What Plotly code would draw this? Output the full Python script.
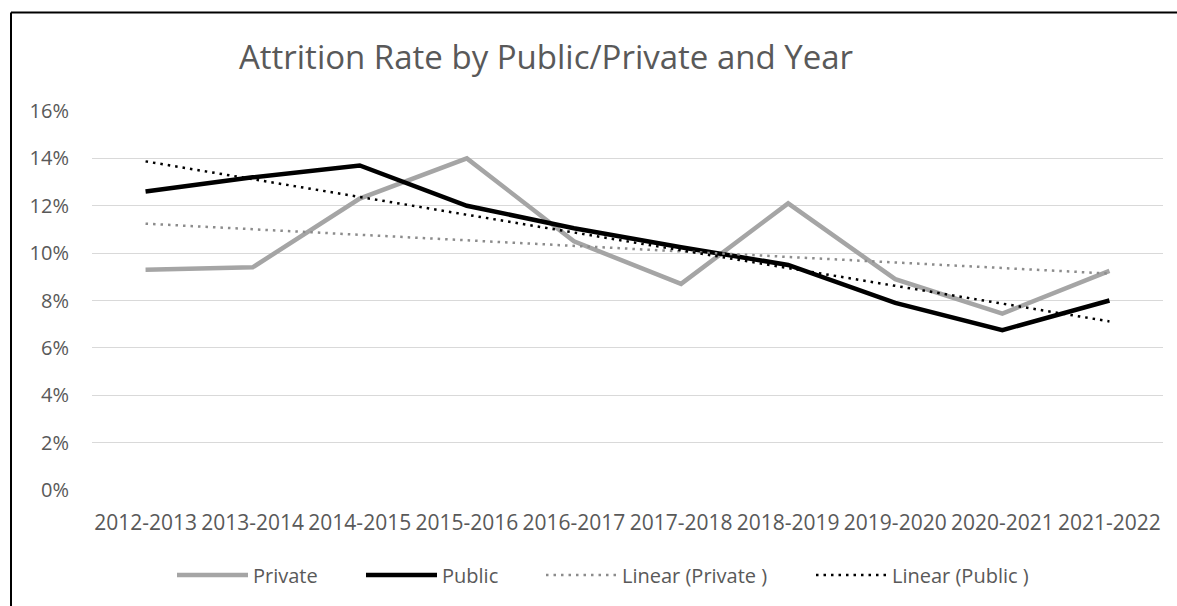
import numpy as np
import plotly.graph_objects as go

years = ["2012-2013", "2013-2014", "2014-2015", "2015-2016", "2016-2017",
         "2017-2018", "2018-2019", "2019-2020", "2020-2021", "2021-2022"]
private_rate = [0.093, 0.094, 0.123, 0.140, 0.105, 0.087, 0.121, 0.089, 0.0745, 0.0925]
public_rate = [0.126, 0.132, 0.137, 0.120, 0.1105, 0.1025, 0.095, 0.079, 0.0675, 0.080]
y_ticks = [0, 0.02, 0.04, 0.06, 0.08, 0.10, 0.12, 0.14, 0.16]
y_tick_labels = ["0%", "2%", "4%", "6%", "8%", "10%", "12%", "14%", "16%"]

idx = np.arange(len(years))
pv_fit = np.polyval(np.polyfit(idx, private_rate, 1), idx)
pb_fit = np.polyval(np.polyfit(idx, public_rate, 1), idx)

FONT = "Open Sans"
TXT = "#595959"

W, H = 1177, 606
L, R, T, B = 92, 14, 111, 116
pw, ph = W - L - R, H - T - B

def px(x):
    return (x - L) / pw

def py(y):
    return (H - B - y) / ph

fig = go.Figure()
fig.add_trace(go.Scatter(x=years, y=private_rate, mode="lines", name="Private",
                         line=dict(color="#a5a5a5", width=4.5), legend="legend"))
fig.add_trace(go.Scatter(x=years, y=public_rate, mode="lines", name="Public",
                         line=dict(color="#000000", width=4.5), legend="legend2"))
fig.add_trace(go.Scatter(x=years, y=pv_fit, mode="lines", name="Linear (Private )",
                         line=dict(color="#8c8c8c", width=2.5, dash="2.5px,5px"), legend="legend3"))
fig.add_trace(go.Scatter(x=years, y=pb_fit, mode="lines", name="Linear (Public )",
                         line=dict(color="#000000", width=2.5, dash="2.5px,5px"), legend="legend4"))

leg_common = dict(orientation="h", yanchor="middle", y=py(575), xanchor="left",
                  font=dict(family=FONT, size=20, color=TXT), itemwidth=71,
                  bgcolor="rgba(0,0,0,0)", borderwidth=0)
legend_starts = [177, 366, 546, 816]

fig.update_layout(
    width=W, height=H,
    margin=dict(l=L, r=R, t=T, b=B),
    paper_bgcolor="white", plot_bgcolor="white",
    title=dict(text="Attrition Rate by Public/Private and Year",
               font=dict(family=FONT, size=33, color=TXT),
               x=px(546), xref="paper", xanchor="center",
               y=1 - 57 / H, yref="container", yanchor="middle"),
    legend=dict(x=px(legend_starts[0] - 5), **leg_common),
    legend2=dict(x=px(legend_starts[1] - 5), **leg_common),
    legend3=dict(x=px(legend_starts[2] - 5), **leg_common),
    legend4=dict(x=px(legend_starts[3] - 5), **leg_common),
    showlegend=True,
    xaxis=dict(type="category", range=[-0.5, len(years) - 0.5], showgrid=False,
               showline=False, zeroline=False, ticks="", ticklabelstandoff=18,
               tickfont=dict(family=FONT, size=21, color=TXT)),
    yaxis=dict(range=[0, 0.16], tickvals=y_ticks, ticktext=y_tick_labels,
               showgrid=True, gridcolor="#d9d9d9", gridwidth=1.3, zeroline=False,
               showline=False, ticks="", ticklabelstandoff=22,
               tickfont=dict(family=FONT, size=20, color=TXT)),
    shapes=[
        dict(type="line", xref="paper", yref="paper", x0=px(11), x1=px(W + 2),
             y0=py(12.5), y1=py(12.5), line=dict(color="black", width=2)),
        dict(type="line", xref="paper", yref="paper", x0=px(11), x1=px(11),
             y0=py(12.5), y1=py(H + 2), line=dict(color="black", width=2)),
    ],
)

fig.write_html("out.html", config={"displayModeBar": False},
               post_script="document.body.style.margin='0';document.body.style.overflow='hidden';")
